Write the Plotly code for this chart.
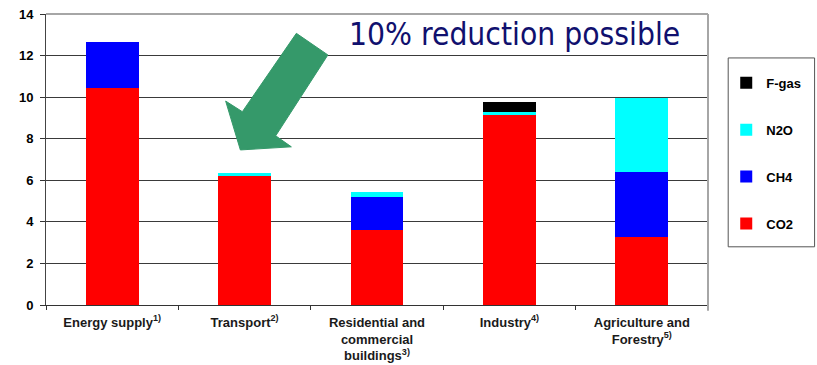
import plotly.graph_objects as go

# Sector categories (tick labels with footnote markers)
sectors = [
    "Energy supply<sup>1)</sup>",
    "Transport<sup>2)</sup>",
    "Residential and<br>commercial<br>buildings<sup>3)</sup>",
    "Industry<sup>4)</sup>",
    "Agriculture and<br>Forestry<sup>5)</sup>",
]

# Emissions by gas per sector
co2 = [10.45, 6.22, 3.60, 9.13, 3.27]
ch4 = [2.20, 0.00, 1.60, 0.00, 3.12]
n2o = [0.00, 0.15, 0.22, 0.15, 3.55]
fgas = [0.00, 0.00, 0.00, 0.50, 0.00]

# (name, values, colour, legend rank) — stacked bottom to top, listed top to bottom in the legend
series = [
    ("CO2", co2, "#ff0000", 4),
    ("CH4", ch4, "#0000ff", 3),
    ("N2O", n2o, "#00ffff", 2),
    ("F-gas", fgas, "#000000", 1),
]

y_ticks = [0, 2, 4, 6, 8, 10, 12, 14]

fig = go.Figure()
for name, vals, color, rank in series:
    fig.add_trace(go.Bar(
        x=sectors, y=vals, name=name, legendgroup=name, legendrank=rank,
        marker=dict(color=color, line=dict(width=0)),
        width=0.4,
    ))

label_font = dict(family="Liberation Sans, Arial, sans-serif", size=13, color="#1a1a1a", weight="bold")

fig.update_layout(
    width=817, height=365,
    margin=dict(l=46, r=108, t=14, b=60),
    paper_bgcolor="white", plot_bgcolor="white",
    barmode="stack",
    showlegend=True,
    legend=dict(
        traceorder="grouped",
        tracegroupgap=27,
        x=1.026, xanchor="left",
        y=0.815, yanchor="top",
        bgcolor="rgba(0,0,0,0)",
        borderwidth=0,
        font=dict(family="Liberation Sans, Arial, sans-serif", size=13, color="#000000", weight="bold"),
    ),
    xaxis=dict(
        automargin=False,
        showline=True, linecolor="#333333", linewidth=1,
        ticks="outside", tickson="boundaries", ticklen=4, tickcolor="#333333",
        ticklabelstandoff=5,
        tickfont=label_font,
        showgrid=False,
    ),
    yaxis=dict(
        automargin=False,
        range=[0, 14], tickvals=y_ticks,
        showline=True, linecolor="#444444", linewidth=1,
        ticks="outside", ticklen=5, tickcolor="#333333",
        ticklabelstandoff=4,
        tickfont=dict(family="Liberation Sans, Arial, sans-serif", size=13, color="#000000", weight="bold"),
        showgrid=True, gridcolor="#3a3a3a", gridwidth=1,
        zeroline=False,
    ),
)

# Frame: gray top and right edges of the plot area
fig.add_shape(type="line", xref="paper", yref="paper", x0=0, x1=1, y0=1, y1=1,
              line=dict(color="#a6a6a6", width=2))
fig.add_shape(type="line", xref="paper", yref="paper", x0=1, x1=1, y0=-0.02, y1=1,
              line=dict(color="#a6a6a6", width=2))

# Legend frame
fig.add_shape(type="rect", xref="paper", yref="paper",
              x0=1.0305, x1=1.161, y0=0.200, y1=0.849,
              line=dict(color="#555555", width=1), fillcolor="rgba(0,0,0,0)")

# Green block arrow pointing at the transport bar
arrow_pts = [(1.391, 13.07), (1.629, 12.03), (1.235, 8.14), (1.353, 7.61),
             (0.968, 7.46), (0.857, 9.81), (0.983, 9.30)]
path = "M " + " L ".join(f"{x},{y}" for x, y in arrow_pts) + " Z"
fig.add_shape(type="path", xref="x", yref="y", path=path,
              fillcolor="#35996a", line=dict(color="#35996a", width=1))

# Headline
fig.add_annotation(
    xref="paper", yref="paper", x=(515 - 46) / 663, y=(305 - 34) / 291,
    text="10% reduction possible", showarrow=False,
    font=dict(family="DejaVu Sans Condensed, DejaVu Sans, sans-serif", size=31.5, color="#10106e"),
    xanchor="center", yanchor="middle",
)

fig.write_html("out.html")
